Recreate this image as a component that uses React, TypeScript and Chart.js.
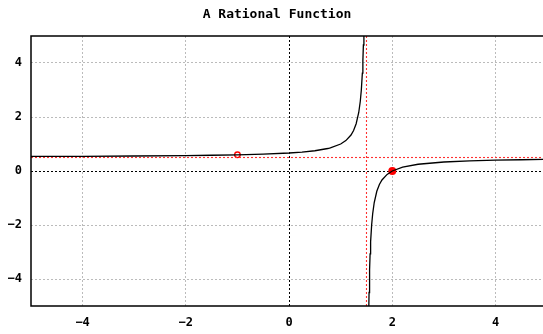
import React, { useEffect, useRef } from "react";
import { Chart, registerables } from "chart.js";

Chart.register(...registerables);

const TITLE = "A Rational Function";
const X_TICKS = [-4, -2, 0, 2, 4];
const Y_TICKS = [-4, -2, 0, 2, 4];

// left branch of the curve (x < 1.5)
const leftX = [-5, -4, -3, -2, -1.5, -1, -0.5, 0, 0.25, 0.5, 0.75, 0.8, 1.0, 1.1, 1.2, 1.25, 1.3, 1.35, 1.38, 1.4, 1.42, 1.43, 1.44, 1.45];
const leftY = [0.538, 0.545, 0.556, 0.571, 0.583, 0.6, 0.625, 0.667, 0.7, 0.75, 0.833, 0.857, 1.0, 1.125, 1.333, 1.5, 1.75, 2.167, 2.583, 3.0, 3.625, 4.071, 4.667, 5.5];
// right branch of the curve (x > 1.5)
const rightX = [1.54, 1.545, 1.55, 1.56, 1.57, 1.58, 1.6, 1.62, 1.65, 1.7, 1.75, 1.8, 1.9, 2.0, 2.2, 2.5, 3, 3.5, 4, 4.5, 5];
const rightY = [-5.75, -5.056, -4.5, -3.667, -3.071, -2.625, -2.0, -1.583, -1.167, -0.75, -0.5, -0.333, -0.125, 0, 0.143, 0.25, 0.333, 0.375, 0.4, 0.417, 0.429];

const verticalAsymptoteX = 1.5;
const horizontalAsymptoteY = 0.5;
const holePoint = [-1, 0.6];
const zeroPoint = [2, 0];

const X_MIN = -5;
const X_MAX = 4.92;
const Y_MIN = -5;
const Y_MAX = 5;

export default function App() {
  const ref = useRef<HTMLCanvasElement | null>(null);

  useEffect(() => {
    document.body.style.margin = "0";
    const canvas = ref.current;
    if (!canvas) return;

    const framePlugin = {
      id: "frame",
      afterDatasetsDraw(chart: any) {
        const { ctx, chartArea } = chart;
        ctx.save();
        ctx.strokeStyle = "#000";
        ctx.lineWidth = 1.5;
        ctx.beginPath();
        ctx.moveTo(chartArea.right + 2, chartArea.top);
        ctx.lineTo(chartArea.left, chartArea.top);
        ctx.lineTo(chartArea.left, chartArea.bottom);
        ctx.lineTo(chartArea.right + 2, chartArea.bottom);
        ctx.stroke();
        ctx.restore();
      },
      afterDraw(chart: any) {
        const { ctx } = chart;
        ctx.save();
        ctx.fillStyle = "#000";
        ctx.font = "bold 13px 'DejaVu Sans Mono'";
        ctx.textAlign = "center";
        ctx.textBaseline = "middle";
        ctx.fillText(TITLE, 277, 15);
        ctx.restore();
      },
    };

    const gridColor = (c: any) => (c.tick && c.tick.value === 0 ? "#000" : "#bbbbbb");
    const tickFont = { family: "'DejaVu Sans Mono'", size: 12, weight: "bold" };

    const chart = new Chart(canvas, {
      type: "scatter",
      data: {
        datasets: [
          {
            data: leftX.map((x, i) => ({ x, y: leftY[i] })),
            showLine: true,
            borderColor: "#000",
            borderWidth: 1.3,
            pointRadius: 0,
            tension: 0,
          },
          {
            data: rightX.map((x, i) => ({ x, y: rightY[i] })),
            showLine: true,
            borderColor: "#000",
            borderWidth: 1.3,
            pointRadius: 0,
            tension: 0,
          },
          {
            data: [
              { x: verticalAsymptoteX, y: Y_MIN },
              { x: verticalAsymptoteX, y: Y_MAX },
            ],
            showLine: true,
            borderColor: "#ff3030",
            borderWidth: 1.1,
            borderDash: [2, 2],
            pointRadius: 0,
          },
          {
            data: [
              { x: X_MIN, y: horizontalAsymptoteY },
              { x: 5, y: horizontalAsymptoteY },
            ],
            showLine: true,
            borderColor: "#ff3030",
            borderWidth: 1.1,
            borderDash: [2, 2],
            pointRadius: 0,
          },
          {
            data: [{ x: holePoint[0], y: holePoint[1] }],
            pointRadius: 2.8,
            pointBorderWidth: 1.3,
            pointBorderColor: "#ff0000",
            pointBackgroundColor: "#ffffff",
          },
          {
            data: [{ x: zeroPoint[0], y: zeroPoint[1] }],
            pointRadius: 4,
            pointBorderWidth: 0,
            pointBackgroundColor: "#ff0000",
            pointBorderColor: "#ff0000",
          },
        ],
      },
      options: {
        animation: false,
        responsive: false,
        events: [],
        layout: { autoPadding: false, padding: { top: 36, right: 0, left: 0, bottom: 0 } },
        plugins: {
          legend: { display: false },
          title: { display: false },
          tooltip: { enabled: false },
        },
        scales: {
          x: {
            type: "linear",
            min: X_MIN,
            max: X_MAX,
            afterBuildTicks: (scale: any) => {
              scale.ticks = X_TICKS.map((v) => ({ value: v }));
            },
            afterFit: (scale: any) => {
              scale.height = 28;
              scale.paddingLeft = 0;
              scale.paddingRight = 0;
            },
            border: { display: false, dash: [2, 2] },
            grid: { drawTicks: false, color: gridColor, lineWidth: 1 },
            ticks: {
              padding: 10,
              color: "#000",
              font: tickFont,
              callback: (v: any) => String(v).replace("-", "\u2212"),
            },
          },
          y: {
            type: "linear",
            min: Y_MIN,
            max: Y_MAX,
            afterBuildTicks: (scale: any) => {
              scale.ticks = Y_TICKS.map((v) => ({ value: v }));
            },
            afterFit: (scale: any) => {
              scale.width = 31;
            },
            border: { display: false, dash: [2, 2] },
            grid: { drawTicks: false, color: gridColor, lineWidth: 1 },
            ticks: {
              padding: 9,
              color: "#000",
              font: tickFont,
              callback: (v: any) => String(v).replace("-", "\u2212"),
            },
          },
        },
      },
      plugins: [framePlugin],
    } as any);

    return () => chart.destroy();
  }, []);

  return <canvas ref={ref} width={543} height={334} style={{ display: "block" }} />;
}
